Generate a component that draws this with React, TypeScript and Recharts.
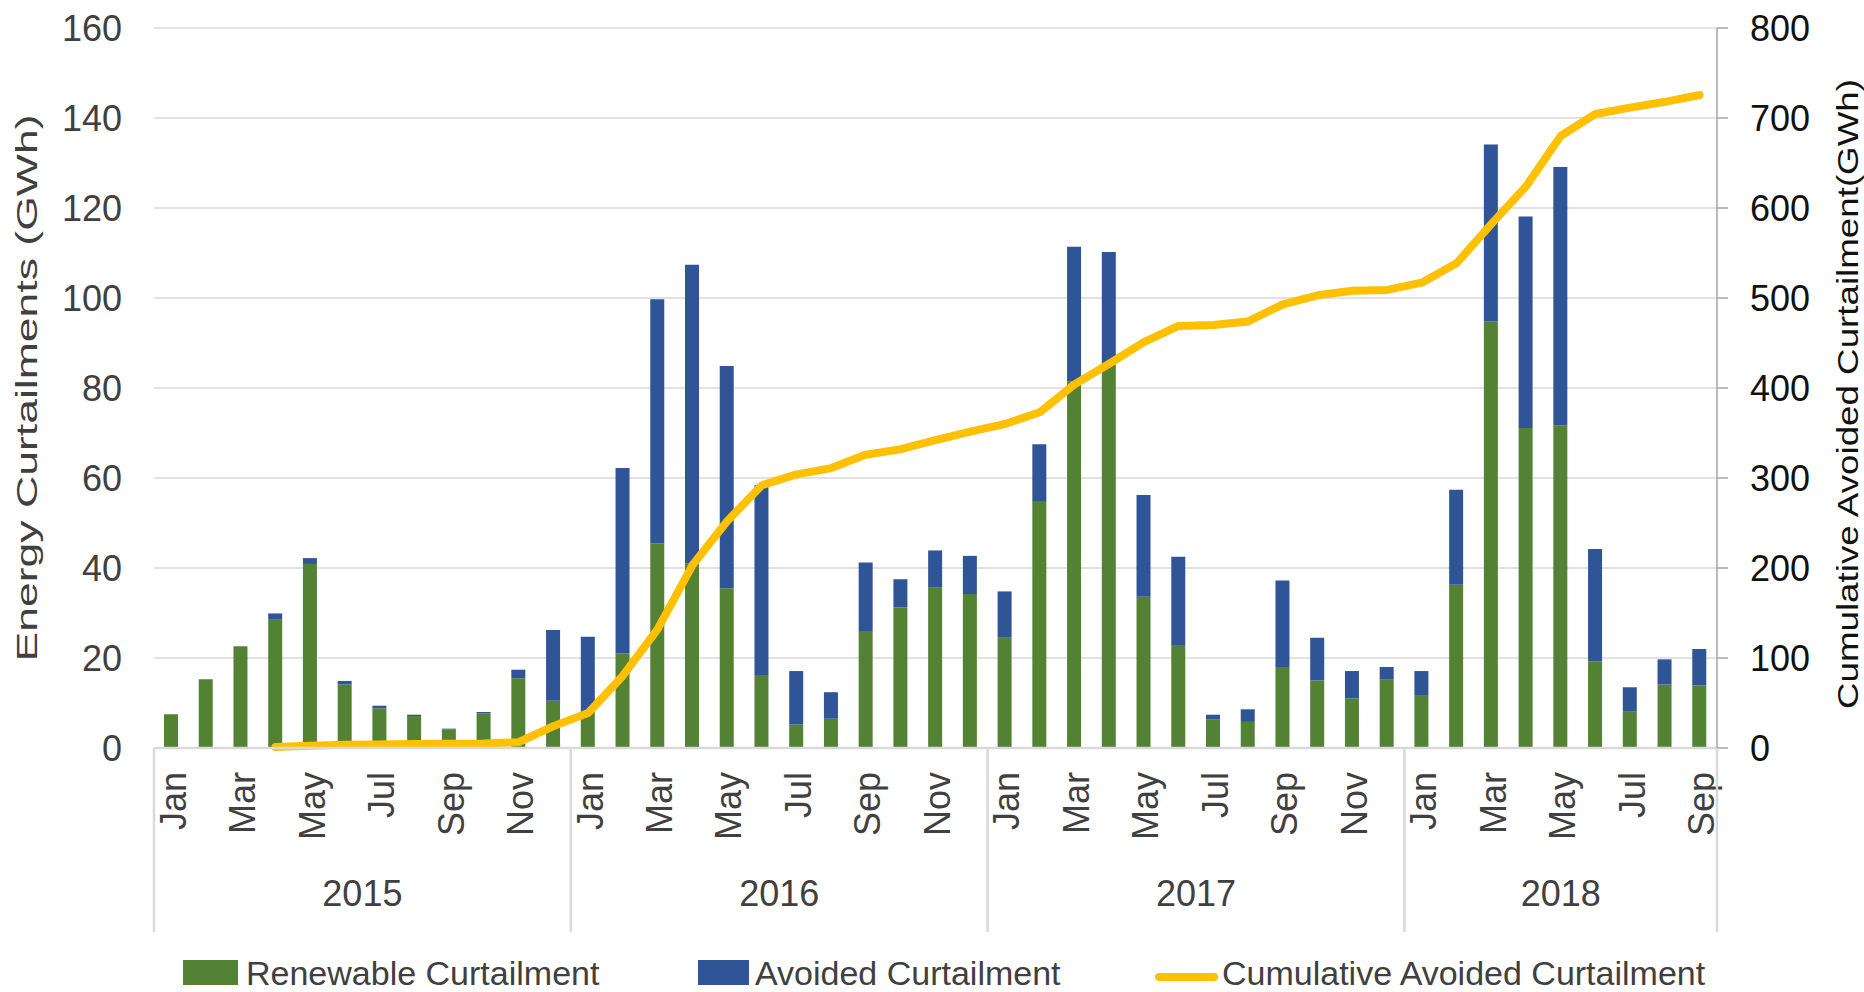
import { Bar, CartesianGrid, ComposedChart, Line, XAxis, YAxis } from "recharts";

const FONT = '"Liberation Sans", Arial, sans-serif';
const GREEN = "#548235";
const BLUE = "#2F5597";
const GOLD = "#FFC000";
const GRID = "#d9d9d9";
const TEXT = "#404040";

const MONTH_NAMES = ["Jan", "Feb", "Mar", "Apr", "May", "Jun", "Jul", "Aug", "Sep", "Oct", "Nov", "Dec"];
const YEARS = [2015, 2016, 2017, 2018];
const MONTHS_PER_YEAR = [12, 12, 12, 9];

// GWh, Jan 2015 .. Sep 2018
const RENEWABLE = [
  7.5, 15.3, 22.6, 28.5, 40.9, 14.1, 8.8, 7.1, 4.1, 7.7, 15.5, 10.5,
  8.0, 21.0, 45.5, 41.0, 35.5, 16.2, 5.2, 6.5, 26.0, 31.3, 35.7, 34.2,
  24.5, 54.7, 81.5, 85.4, 33.6, 22.9, 6.3, 5.8, 18.0, 15.0, 11.0, 15.2,
  11.6, 36.3, 94.8, 71.1, 71.7, 19.3, 8.2, 14.1, 13.9,
];
const AVOIDED = [
  0, 0, 0, 1.4, 1.3, 0.8, 0.6, 0.3, 0.2, 0.3, 1.9, 15.7,
  16.7, 41.2, 54.2, 66.4, 49.4, 42.2, 11.9, 5.9, 15.2, 6.2, 8.2, 8.5,
  10.3, 12.8, 29.9, 24.8, 22.6, 19.6, 1.1, 2.8, 19.2, 9.5, 6.1, 2.8,
  5.5, 21.1, 39.3, 47.0, 57.4, 24.9, 5.3, 5.6, 8.1,
];
const CUMULATIVE: (number | null)[] = [
  null, null, null, 1, 2.5, 3.5, 4, 4.5, 4.7, 5, 6.5, 24.3,
  38.8, 80.3, 132, 203, 252, 292, 304, 311, 326, 332, 342, 351.5,
  360, 373, 404, 427, 451, 469, 470, 474, 493, 503, 508, 509,
  517, 538.5, 582, 624, 680, 704.5, 711.6, 718, 725.6,
];

const LEFT_TICKS = [0, 20, 40, 60, 80, 100, 120, 140, 160];
const RIGHT_TICKS = [0, 100, 200, 300, 400, 500, 600, 700, 800];

const CATEGORIES = YEARS.flatMap((year, yi) =>
  MONTH_NAMES.slice(0, MONTHS_PER_YEAR[yi]).map((month, mi) => ({ year, month, mi, count: MONTHS_PER_YEAR[yi] }))
);

const rows = CATEGORIES.map((c, i) => ({
  key: `${c.month} ${c.year}`,
  renewable: RENEWABLE[i],
  avoided: AVOIDED[i],
  cumulative: CUMULATIVE[i],
}));

const BAND_HALF = 1563 / 45 / 2;

function MonthYearTick(props: any) {
  const { x, y, payload, index } = props;
  const c = CATEGORIES[index];
  if (!c) return null;
  const half = payload?.offset || BAND_HALF;
  const isLast = index === CATEGORIES.length - 1;
  return (
    <g>
      {index % 2 === 0 && (
        <text
          x={x}
          y={y + 24}
          transform={`rotate(-90 ${x} ${y + 24})`}
          textAnchor="end"
          dy="0.4em"
          fontSize={36}
          fill={TEXT}
          fontFamily={FONT}
        >
          {c.month}
        </text>
      )}
      {c.mi === 0 && (
        <>
          <line x1={x - half} x2={x - half} y1={y} y2={y + 184} stroke={GRID} strokeWidth={2.5} />
          <text
            x={x - half + c.count * half}
            y={y + 158}
            textAnchor="middle"
            fontSize={36}
            fill={TEXT}
            fontFamily={FONT}
          >
            {c.year}
          </text>
        </>
      )}
      {isLast && <line x1={x + half} x2={x + half} y1={y} y2={y + 184} stroke={GRID} strokeWidth={2.5} />}
    </g>
  );
}

function LeftTitle() {
  return (
    <text
      x={26}
      y={388}
      transform="rotate(-90 26 388)"
      textAnchor="middle"
      dy="0.35em"
      fontSize={30}
      fill={TEXT}
      fontFamily={FONT}
      textLength={547}
      lengthAdjust="spacingAndGlyphs"
    >
      Energy Curtailments (GWh)
    </text>
  );
}

function RightTitle() {
  return (
    <text
      x={1847}
      y={394}
      transform="rotate(-90 1847 394)"
      textAnchor="middle"
      dy="0.35em"
      fontSize={30}
      fill="#111"
      fontFamily={FONT}
      textLength={630}
      lengthAdjust="spacingAndGlyphs"
    >
      Cumulative Avoided Curtailment(GWh)
    </text>
  );
}

const legendText = {
  position: "absolute" as const,
  top: 956,
  fontSize: 34,
  lineHeight: 1,
  color: TEXT,
  fontFamily: FONT,
  whiteSpace: "nowrap" as const,
};

export default function App() {
  return (
    <div style={{ position: "absolute", left: 0, top: 0, width: 1864, height: 992, background: "#fff" }}>
      <ComposedChart
        width={1864}
        height={992}
        data={rows}
        margin={{ top: 28, right: 0, bottom: 54, left: 0 }}
        style={{ fontFamily: FONT }}
      >
        <CartesianGrid yAxisId="left" vertical={false} stroke={GRID} strokeWidth={1.5} />
        <XAxis
          dataKey="key"
          interval={0}
          height={190}
          tickLine={false}
          tickSize={0}
          tickMargin={0}
          axisLine={{ stroke: GRID, strokeWidth: 2.5 }}
          tick={<MonthYearTick />}
        />
        <YAxis
          yAxisId="left"
          orientation="left"
          width={154}
          domain={[0, 160]}
          ticks={LEFT_TICKS}
          axisLine={false}
          tickLine={false}
          tickSize={0}
          tickMargin={32}
          tick={{ fontSize: 36, fill: TEXT, fontFamily: FONT }}
          label={() => <LeftTitle />}
        />
        <YAxis
          yAxisId="right"
          orientation="right"
          width={147}
          domain={[0, 800]}
          ticks={RIGHT_TICKS}
          axisLine={{ stroke: "#a6a6a6", strokeWidth: 1.5 }}
          tickLine={{ stroke: "#a6a6a6", strokeWidth: 1.5 }}
          tickSize={11}
          tickMargin={22}
          tick={{ fontSize: 36, fill: "#111", fontFamily: FONT }}
          label={() => <RightTitle />}
        />
        <Bar yAxisId="left" dataKey="renewable" stackId="c" fill={GREEN} barSize={14} isAnimationActive={false} />
        <Bar yAxisId="left" dataKey="avoided" stackId="c" fill={BLUE} barSize={14} isAnimationActive={false} />
        <Line
          yAxisId="right"
          dataKey="cumulative"
          type="linear"
          stroke={GOLD}
          strokeWidth={8}
          strokeLinecap="round"
          strokeLinejoin="round"
          dot={false}
          activeDot={false}
          isAnimationActive={false}
        />
      </ComposedChart>

      <span style={{ position: "absolute", left: 183, top: 960, width: 55, height: 25, background: GREEN }} />
      <span style={{ ...legendText, left: 246 }}>Renewable Curtailment</span>
      <span style={{ position: "absolute", left: 698, top: 960, width: 51, height: 25, background: BLUE }} />
      <span style={{ ...legendText, left: 755 }}>Avoided Curtailment</span>
      <span
        style={{ position: "absolute", left: 1155, top: 973, width: 63, height: 8, borderRadius: 4, background: GOLD }}
      />
      <span style={{ ...legendText, left: 1222 }}>Cumulative Avoided Curtailment</span>
    </div>
  );
}
